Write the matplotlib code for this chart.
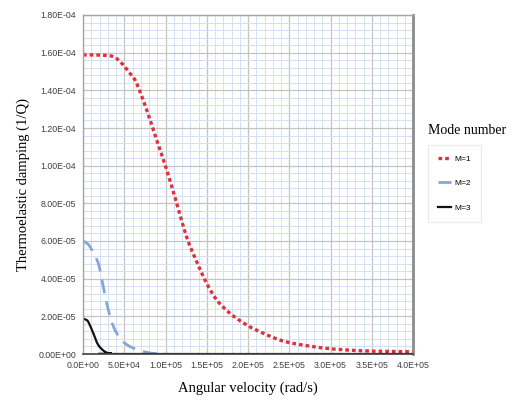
import matplotlib
matplotlib.use("Agg")
import matplotlib.pyplot as plt
import numpy as np
from matplotlib.ticker import MultipleLocator, FuncFormatter
from matplotlib.path import Path
from matplotlib.patches import PathPatch
from matplotlib.lines import Line2D

# Data
m1_x = [0, 2.0e4, 3.6e4, 4.5e4, 5.7e4, 6.5e4, 7.72e4, 8.93e4, 1.015e5,
        1.136e5, 1.257e5, 1.378e5, 1.499e5, 1.621e5, 1.782e5, 1.984e5,
        2.186e5, 2.388e5, 2.59e5, 2.95e5, 3.36e5, 3.70e5, 4.0e5]
m1_y = [1.588e-4, 1.587e-4, 1.58e-4, 1.552e-4, 1.49e-4, 1.437e-4, 1.296e-4,
        1.136e-4, 9.77e-5, 8.0e-5, 6.2e-5, 4.9e-5, 3.75e-5, 2.87e-5,
        2.16e-5, 1.54e-5, 1.10e-5, 7.4e-6, 5.3e-6, 3.0e-6, 1.75e-6,
        1.4e-6, 1.2e-6]

m2_x = [0, 4.0e3, 8.5e3, 1.85e4, 2.46e4, 3.07e4, 3.88e4, 5.09e4, 6.7e4,
        8.33e4, 1.0e5]
m2_y = [6.0e-5, 5.9e-5, 5.69e-5, 4.82e-5, 3.57e-5, 2.34e-5, 1.27e-5, 5.7e-6,
        2.1e-6, 4e-7, 0.0]

m3_x = [0, 3.0e3, 6.4e3, 1.25e4, 1.85e4, 2.67e4, 3.5e4, 5.0e4, 4.0e5]
m3_y = [1.88e-5, 1.83e-5, 1.71e-5, 1.1e-5, 4.8e-6, 1.2e-6, 2e-7, 0.0, 0.0]

series_labels = ["M=1", "M=2", "M=3"]


def smooth_path(xs, ys, tension=1.0 / 6.0):
    """Excel-like smoothed line: Catmull-Rom segments drawn as cubic Beziers."""
    p = np.column_stack([xs, ys]).astype(float)
    n = len(p)
    verts = [tuple(p[0])]
    codes = [Path.MOVETO]
    for i in range(n - 1):
        p0 = p[i - 1] if i > 0 else p[i]
        p1 = p[i]
        p2 = p[i + 1]
        p3 = p[i + 2] if i + 2 < n else p[i + 1]
        c1 = p1 + (p2 - p0) * tension
        c2 = p2 - (p3 - p1) * tension
        verts += [tuple(c1), tuple(c2), tuple(p2)]
        codes += [Path.CURVE4] * 3
    return Path(verts, codes)


fig = plt.figure(figsize=(5.19, 4.08), dpi=100)
W, H = 519, 408
left, right, top, bottom = 83, 413, 15, 354
ax = fig.add_axes([left / W, 1 - bottom / H, (right - left) / W, (bottom - top) / H])

ax.set_xlim(0, 4.0e5)
ax.set_ylim(0, 1.8e-4)

ax.xaxis.set_major_locator(MultipleLocator(5e4))
ax.xaxis.set_minor_locator(MultipleLocator(1e4))
ax.yaxis.set_major_locator(MultipleLocator(2e-5))
ax.yaxis.set_minor_locator(MultipleLocator(4e-6))

ax.grid(which="minor", color="#d3e0f3", linewidth=0.7)
ax.grid(which="major", color="#c4c4c4", linewidth=0.9)
ax.set_axisbelow(True)

ax.xaxis.set_major_formatter(FuncFormatter(lambda v, pos: "%.1E" % v))
ax.yaxis.set_major_formatter(FuncFormatter(lambda v, pos: "%.2E" % v))

ax.tick_params(which="both", length=0)
ax.tick_params(axis="both", labelsize=6.3, colors="#404040", pad=5)
for lbl in ax.get_xticklabels() + ax.get_yticklabels():
    lbl.set_fontfamily("Liberation Sans")

for side in ["top", "left"]:
    ax.spines[side].set_color("#a6a6a6")
    ax.spines[side].set_linewidth(1.0)
ax.spines["right"].set_color("#8c8c8c")
ax.spines["right"].set_linewidth(2.0)
ax.spines["bottom"].set_color("#404040")
ax.spines["bottom"].set_linewidth(1.2)

styles = [
    dict(color="#e0303c", linewidth=2.4, linestyle=(0, (1.1, 0.9))),
    dict(color="#87a6d6", linewidth=2.0, linestyle=(0, (5, 3))),
    dict(color="#111111", linewidth=1.6, linestyle="-"),
]
handles = []
for (xs, ys), st, lab in zip([(m1_x, m1_y), (m2_x, m2_y), (m3_x, m3_y)],
                             styles, series_labels):
    patch = PathPatch(smooth_path(xs, ys), facecolor="none",
                      edgecolor=st["color"], linewidth=st["linewidth"],
                      linestyle=st["linestyle"], capstyle="butt")
    ax.add_patch(patch)
    handles.append(Line2D([], [], label=lab, **st))

serif = ["Liberation Serif", "DejaVu Serif"]
ax.set_xlabel("Angular velocity (rad/s)", fontsize=10.5, family=serif, labelpad=8)
ax.set_ylabel("Thermoelastic damping (1/Q)", fontsize=10.5, family=serif, labelpad=6)

fig.text(467 / W, 1 - 130 / H, "Mode number", fontsize=10, family=serif,
         ha="center", va="center")
leg = fig.legend(handles=handles, loc="upper left",
                 bbox_to_anchor=(428 / W, 1 - 145 / H), frameon=True,
                 prop={"family": "Liberation Sans", "size": 6},
                 handlelength=1.6, labelspacing=2.0, borderpad=1.2,
                 handletextpad=0.4, fancybox=False, borderaxespad=0)
leg.get_frame().set_edgecolor("#e6e6e6")
leg.get_frame().set_linewidth(0.8)

fig.savefig("out.png", dpi=100)
